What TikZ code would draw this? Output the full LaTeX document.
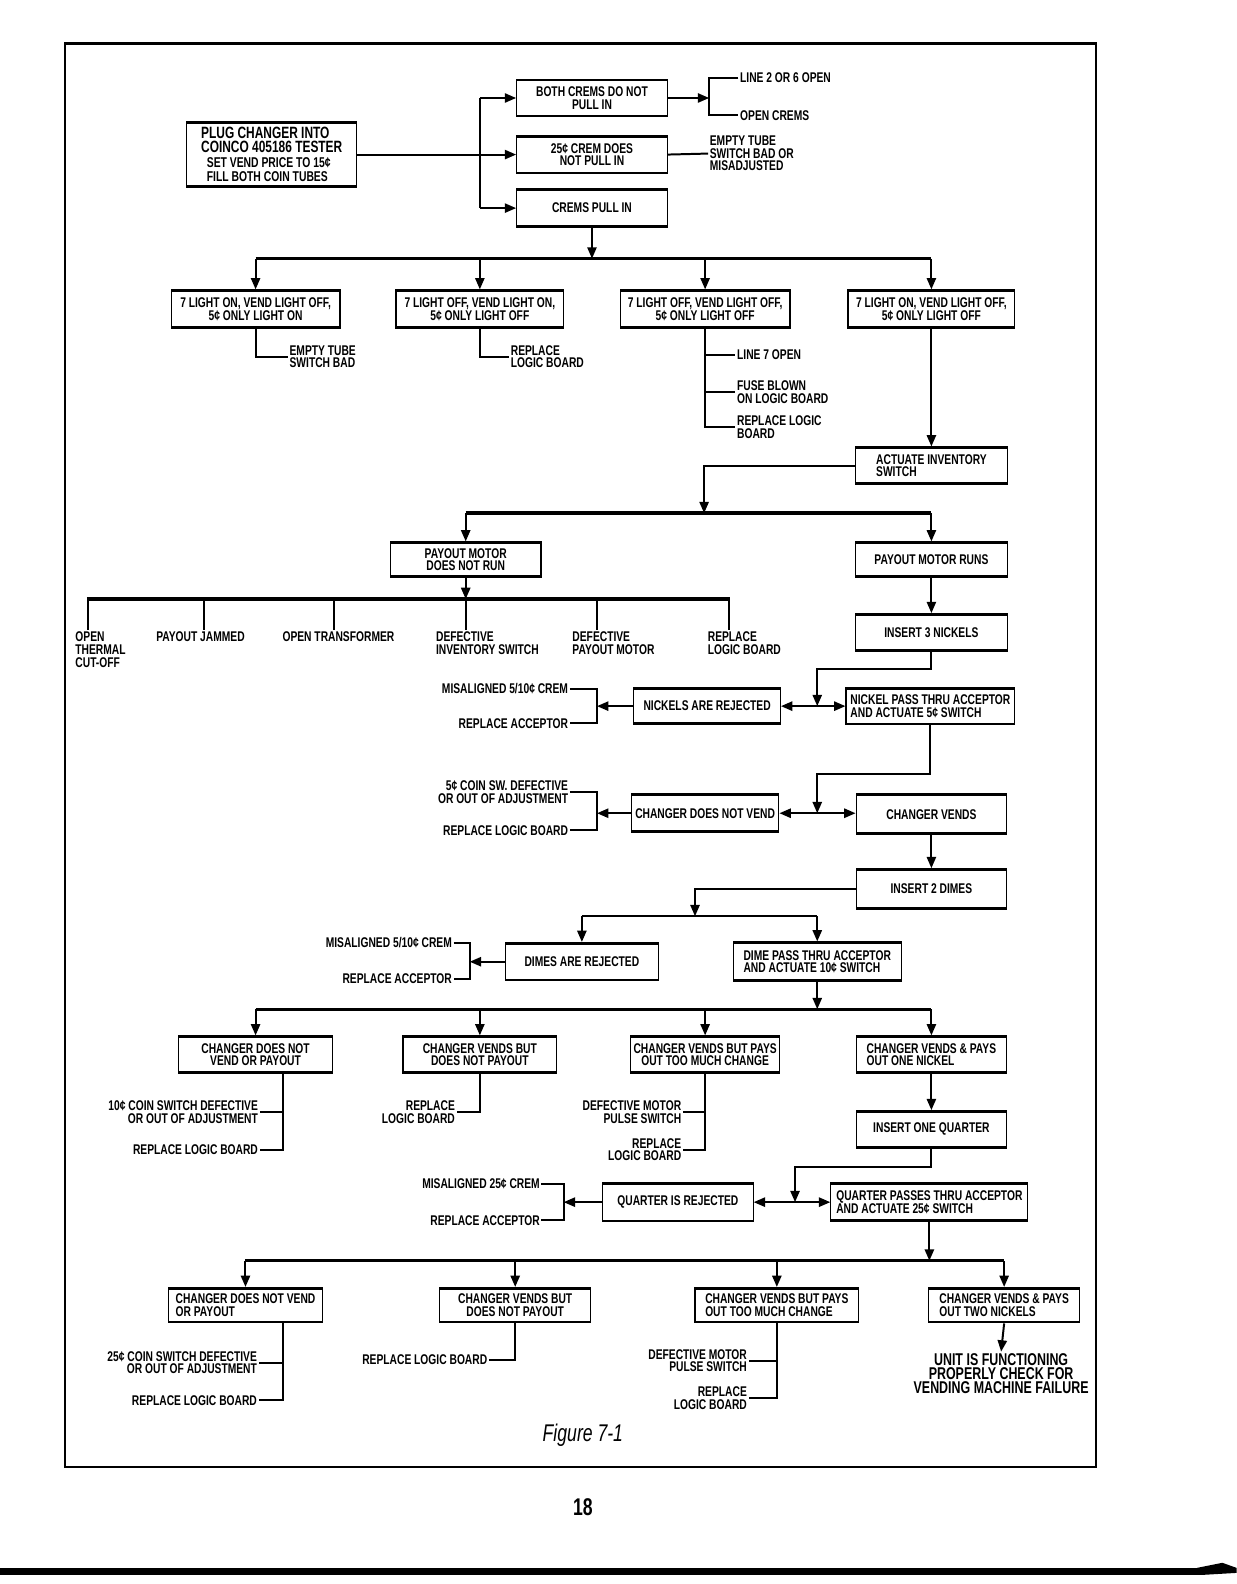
\documentclass[tikz,border=0pt]{standalone}
\usepackage{fontspec}
\setmainfont{Liberation Sans}[FakeStretch=0.73]
\usetikzlibrary{arrows.meta, calc}
\newcommand{\dia}{\fontsize{9.9}{8.9}\selectfont\bfseries}
\newcommand{\diabig}{\fontsize{12}{10}\selectfont\bfseries}
\tikzset{
  box/.style={draw, line width=0.8pt, inner sep=2pt, align=center, font=\dia,
    minimum width=3.725cm, minimum height=0.925cm,
    path picture={\draw[line width=3pt]
      (path picture bounding box.north west) -- (path picture bounding box.north east)
      (path picture bounding box.south west) -- (path picture bounding box.south east);}},
  note/.style={font=\dia, inner sep=1pt},
  link/.style={line width=1.4pt},
  arr/.style={link, -{Triangle[length=8pt,width=6.5pt]}},
  arrs/.style={link, {Triangle[length=8pt,width=6.5pt]}-{Triangle[length=8pt,width=6.5pt]}},
  barline/.style={line width=2.4pt},
}
\begin{document}
\begin{tikzpicture}[x=0.025cm, y=-0.025cm]
  % page frame
  \draw[line width=1.4pt] (64,43) rectangle (1085,1452);
  \draw[line width=2.4pt] (64,43) -- (1085,43);

  % tester and crems
  \node[box, align=left, font=\fontsize{10}{10.2}\selectfont\bfseries,
        minimum width=4.2cm, minimum height=1.625cm] (plug) at (269,153)
    {\fontsize{11.5}{10}\selectfont PLUG CHANGER INTO\\
     \fontsize{11.5}{10}\selectfont COINCO 405186 TESTER\\
     \hspace*{4pt}SET VEND PRICE TO 15¢\\
     \hspace*{4pt}FILL BOTH COIN TUBES};
  \node[box] (both) at (586,97) {BOTH CREMS DO NOT\\PULL IN};
  \node[box, minimum height=0.95cm] (q25) at (586,153) {25¢ CREM DOES\\NOT PULL IN};
  \node[box, minimum height=0.95cm] (pullin) at (586,206) {CREMS PULL IN};
  \coordinate (split) at (475,153);
  \draw[link] (plug.east) -- (split);
  \draw[link] (split |- both.west) -- (split |- pullin.west);
  \foreach \n in {both,q25,pullin}
    \draw[arr] (split |- \n.west) -- (\n.west);

  \node[note, anchor=west] (l26) at (731,77) {LINE 2 OR 6 OPEN};
  \node[note, anchor=west] (lopen) at (731,114) {OPEN CREMS};
  \coordinate (k0) at (702,97);
  \draw[arr] (both.east) -- (k0);
  \draw[link] (l26.west) -| (k0) |- (lopen.west);
  \node[note, anchor=west, align=left] (etube) at (701,152) {EMPTY TUBE\\SWITCH BAD OR\\MISADJUSTED};
  \draw[link] (q25.east) -- (etube.west);

  % light states
  \coordinate (bar1) at (586,256);
  \draw[arr] (pullin.south) -- (bar1);
  \node[box, minimum width=4.175cm, minimum height=0.95cm] (b1) at (253,306) {7 LIGHT ON, VEND LIGHT OFF,\\5¢ ONLY LIGHT ON};
  \node[box, minimum width=4.15cm, minimum height=0.95cm] (b2) at (475,306) {7 LIGHT OFF, VEND LIGHT ON,\\5¢ ONLY LIGHT OFF};
  \node[box, minimum width=4.2cm, minimum height=0.95cm] (b3) at (698,306) {7 LIGHT OFF, VEND LIGHT OFF,\\5¢ ONLY LIGHT OFF};
  \node[box, minimum width=4.125cm, minimum height=0.95cm] (b4) at (922,306) {7 LIGHT ON, VEND LIGHT OFF,\\5¢ ONLY LIGHT OFF};
  \draw[barline] (b1.north |- bar1) -- (b4.north |- bar1);
  \foreach \n in {b1,b2,b3,b4}
    \draw[arr] (\n.north |- bar1) -- (\n.north);

  \node[note, anchor=west, align=left] (b1n) at (285,353) {EMPTY TUBE\\SWITCH BAD};
  \draw[link] (b1.south) |- (b1n.west);
  \node[note, anchor=west, align=left] (b2n) at (504,353) {REPLACE\\LOGIC BOARD};
  \draw[link] (b2.south) |- (b2n.west);
  \node[note, anchor=west] (b3n1) at (728,351) {LINE 7 OPEN};
  \node[note, anchor=west, align=left] (b3n2) at (728,388) {FUSE BLOWN\\ON LOGIC BOARD};
  \node[note, anchor=west, align=left] (b3n3) at (728,423) {REPLACE LOGIC\\BOARD};
  \draw[link] (b3.south) |- (b3n3.west);
  \foreach \n in {b3n1,b3n2}
    \draw[link] (b3.south |- \n.west) -- (\n.west);

  % inventory switch
  \node[box, align=left, minimum width=3.75cm] (act) at (922,461) {ACTUATE INVENTORY\\SWITCH};
  \draw[arr] (b4.south) -- (act.north);
  \coordinate (bar2) at (697,508);
  \draw[arr] (act.west) -| (bar2);
  \node[box, minimum height=0.875cm] (pm1) at (461,554) {PAYOUT MOTOR\\DOES NOT RUN};
  \node[box, minimum width=3.75cm, minimum height=0.875cm] (pm2) at (922,554) {PAYOUT MOTOR RUNS};
  \draw[barline] (pm1.north |- bar2) -- (pm2.north |- bar2);
  \foreach \n in {pm1,pm2}
    \draw[arr] (\n.north |- bar2) -- (\n.north);

  % payout motor faults
  \coordinate (bar3) at (461,593);
  \draw[arr] (pm1.south) -- (bar3);
  \node[note, anchor=north west, align=left] (f1) at (73,624) {OPEN\\THERMAL\\CUT-OFF};
  \node[note, anchor=north west] (f2) at (153,624) {PAYOUT JAMMED};
  \node[note, anchor=north west] (f3) at (278,624) {OPEN TRANSFORMER};
  \node[note, anchor=north west, align=left] (f4) at (430,624) {DEFECTIVE\\INVENTORY SWITCH};
  \node[note, anchor=north west, align=left] (f5) at (565,624) {DEFECTIVE\\PAYOUT MOTOR};
  \node[note, anchor=north west, align=left] (f6) at (699,624) {REPLACE\\LOGIC BOARD};
  \draw[barline] (86,593) -- (723,593);
  \foreach \f/\x in {f1/87,f2/202,f3/331,f4/461,f5/591,f6/722}
    \draw[link] (\x,593) -- (\f.north -| \x,0);

  % nickels
  \node[box, minimum width=3.75cm] (nick3) at (922,626) {INSERT 3 NICKELS};
  \draw[arr] (pm2.south) -- (nick3.north);
  \node[box, minimum width=3.625cm, minimum height=0.9cm] (nrej) at (700,699) {NICKELS ARE REJECTED};
  \node[box, align=left, minimum width=4.175cm] (npass) at (921,699) {NICKEL PASS THRU ACCEPTOR\\AND ACTUATE 5¢ SWITCH};
  \coordinate (j1) at (809,699);
  \draw[arr] (nick3.south) -- ++(0,17) -| (j1);
  \draw[arrs] (nrej.east) -- (npass.west);
  \coordinate (k1) at (591,699);
  \draw[arr] (nrej.west) -- (k1);
  \node[note, anchor=east] (k1a) at (564,682) {MISALIGNED 5/10¢ CREM};
  \node[note, anchor=east] (k1b) at (564,716) {REPLACE ACCEPTOR};
  \draw[link] (k1a.east) -| (k1) |- (k1b.east);

  \node[box, minimum width=3.65cm, minimum height=0.95cm] (cdnv) at (698,805) {CHANGER DOES NOT VEND};
  \node[box, minimum height=1cm] (cv) at (922,806) {CHANGER VENDS};
  \coordinate (j2) at (809,805);
  \draw[arr] (npass.south) -- ++(0,48) -| (j2);
  \draw[arrs] (cdnv.east) -- (cv.west |- cdnv.east);
  \coordinate (k2) at (591,805);
  \draw[arr] (cdnv.west) -- (k2);
  \node[note, anchor=east, align=right] (k2a) at (564,784) {5¢ COIN SW. DEFECTIVE\\OR OUT OF ADJUSTMENT};
  \node[note, anchor=east] (k2b) at (564,822) {REPLACE LOGIC BOARD};
  \draw[link] (k2a.east) -| (k2) |- (k2b.east);

  % dimes
  \node[box, minimum height=1cm] (dimes) at (922,880) {INSERT 2 DIMES};
  \draw[arr] (cv.south) -- (dimes.north);
  \coordinate (bar4) at (688,907);
  \draw[arr] (dimes.west) -| (bar4);
  \node[box, minimum width=3.775cm, minimum height=0.95cm] (drej) at (576,952) {DIMES ARE REJECTED};
  \node[box, align=left, minimum width=4.15cm, minimum height=0.975cm] (dpass) at (809,952) {DIME PASS THRU ACCEPTOR\\AND ACTUATE 10¢ SWITCH};
  \draw[link] (drej.north |- bar4) -- (dpass.north |- bar4);
  \foreach \n in {drej,dpass}
    \draw[arr] (\n.north |- bar4) -- (\n.north);
  \coordinate (k3) at (465,952);
  \draw[arr] (drej.west) -- (k3);
  \node[note, anchor=east] (k3a) at (449,933) {MISALIGNED 5/10¢ CREM};
  \node[note, anchor=east] (k3b) at (449,969) {REPLACE ACCEPTOR};
  \draw[link] (k3a.east) -| (k3) |- (k3b.east);

  % after two dimes
  \coordinate (bar5) at (809,999);
  \draw[arr] (dpass.south) -- (bar5);
  \node[box, minimum width=3.8cm] (c1) at (253,1044) {CHANGER DOES NOT\\VEND OR PAYOUT};
  \node[box, minimum width=3.8cm] (c2) at (475,1044) {CHANGER VENDS BUT\\DOES NOT PAYOUT};
  \node[box, minimum width=3.7cm] (c3) at (698,1044) {CHANGER VENDS BUT PAYS\\OUT TOO MUCH CHANGE};
  \node[box, align=left] (c4) at (922,1044) {CHANGER VENDS \& PAYS\\OUT ONE NICKEL};
  \draw[barline] (c1.north |- bar5) -- (c4.north |- bar5);
  \foreach \n in {c1,c2,c3,c4}
    \draw[arr] (\n.north |- bar5) -- (\n.north);

  \coordinate (c1x) at ($(c1.south)+(27,0)$);
  \node[note, anchor=east, align=right] (c1n1) at (257,1101) {10¢ COIN SWITCH DEFECTIVE\\OR OUT OF ADJUSTMENT};
  \node[note, anchor=east] (c1n2) at (257,1138) {REPLACE LOGIC BOARD};
  \draw[link] (c1x) |- (c1n2.east);
  \draw[link] (c1x |- c1n1.east) -- (c1n1.east);
  \node[note, anchor=east, align=right] (c2n) at (452,1101) {REPLACE\\LOGIC BOARD};
  \draw[link] (c2.south) |- (c2n.east);
  \node[note, anchor=east, align=right] (c3n1) at (676,1101) {DEFECTIVE MOTOR\\PULSE SWITCH};
  \node[note, anchor=east, align=right] (c3n2) at (676,1138) {REPLACE\\LOGIC BOARD};
  \draw[link] (c3.south) |- (c3n2.east);
  \draw[link] (c3.south |- c3n1.east) -- (c3n1.east);

  % quarter
  \node[box] (q1) at (922,1118) {INSERT ONE QUARTER};
  \draw[arr] (c4.south) -- (q1.north);
  \node[box, minimum height=0.975cm] (qrej) at (671,1190) {QUARTER IS REJECTED};
  \node[box, align=left, minimum width=4.875cm, minimum height=0.95cm] (qpass) at (920,1190) {QUARTER PASSES THRU ACCEPTOR\\AND ACTUATE 25¢ SWITCH};
  \coordinate (j3) at (787,1190);
  \draw[arr] (q1.south) -- ++(0,18) -| (j3);
  \draw[arrs] (qrej.east) -- (qpass.west);
  \coordinate (k4) at (558,1190);
  \draw[arr] (qrej.west) -- (k4);
  \node[note, anchor=east] (k4a) at (536,1172) {MISALIGNED 25¢ CREM};
  \node[note, anchor=east] (k4b) at (536,1208) {REPLACE ACCEPTOR};
  \draw[link] (k4a.east) -| (k4) |- (k4b.east);

  % after the quarter
  \coordinate (bar6) at (920,1248);
  \draw[arr] (qpass.south) -- (bar6);
  \node[box, align=left, minimum width=3.8cm, minimum height=0.875cm] (d1) at (243,1292) {CHANGER DOES NOT VEND\\OR PAYOUT};
  \node[box, minimum height=0.875cm] (d2) at (510,1292) {CHANGER VENDS BUT\\DOES NOT PAYOUT};
  \node[box, align=left, minimum width=4.05cm, minimum height=0.875cm] (d3) at (769,1292) {CHANGER VENDS BUT PAYS\\OUT TOO MUCH CHANGE};
  \node[box, align=left, minimum height=0.875cm] (d4) at (994,1292) {CHANGER VENDS \& PAYS\\OUT TWO NICKELS};
  \draw[barline] (d1.north |- bar6) -- (d4.north |- bar6);
  \foreach \n in {d1,d2,d3,d4}
    \draw[arr] (\n.north |- bar6) -- (\n.north);

  \coordinate (d1x) at ($(d1.south)+(37,0)$);
  \node[note, anchor=east, align=right] (d1n1) at (256,1349) {25¢ COIN SWITCH DEFECTIVE\\OR OUT OF ADJUSTMENT};
  \node[note, anchor=east] (d1n2) at (256,1386) {REPLACE LOGIC BOARD};
  \draw[link] (d1x) |- (d1n2.east);
  \draw[link] (d1x |- d1n1.east) -- (d1n1.east);
  \node[note, anchor=east] (d2n) at (484,1346) {REPLACE LOGIC BOARD};
  \draw[link] (d2.south) |- (d2n.east);
  \node[note, anchor=east, align=right] (d3n1) at (741,1347) {DEFECTIVE MOTOR\\PULSE SWITCH};
  \node[note, anchor=east, align=right] (d3n2) at (741,1384) {REPLACE\\LOGIC BOARD};
  \draw[link] (d3.south) |- (d3n2.east);
  \draw[link] (d3.south |- d3n1.east) -- (d3n1.east);
  \node[font=\diabig, align=center, anchor=north, inner sep=1pt] (unit) at (991,1338)
    {UNIT IS FUNCTIONING\\PROPERLY CHECK FOR\\VENDING MACHINE FAILURE};
  \draw[arr] (d4.south) -- (unit.north);

  % caption and page
  \node[font=\fontsize{17}{18}\selectfont\itshape] (fig) at (577,1421) {Figure 7-1};
  \node[font=\fontsize{17}{18}\selectfont\bfseries] (page) at (577,1492) {18};
  \fill (0,1552) rectangle (1190,1559);
  \fill (1185,1552) -- (1210,1547) -- (1224,1552) -- (1224,1557) -- (1190,1559) -- cycle;

  \pgfresetboundingbox
  \useasboundingbox (0,0) rectangle (1224,1568);
\end{tikzpicture}
\end{document}
